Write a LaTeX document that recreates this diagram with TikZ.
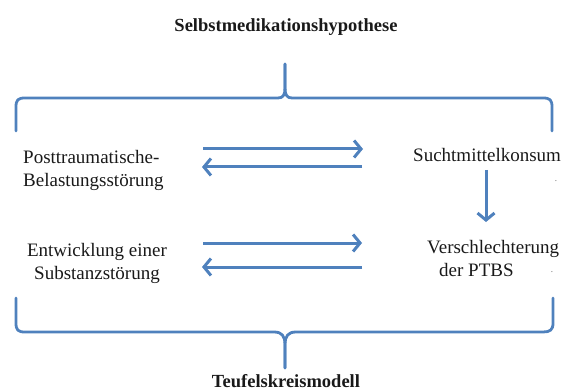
\documentclass[tikz,border=0pt]{standalone}
\usepackage{fontspec}
\setmainfont{Liberation Serif}
\usetikzlibrary{arrows.meta}
\definecolor{obl}{HTML}{4F81BD}
\begin{document}
\begin{tikzpicture}[x=1pt,y=-1pt,
  lbl/.style={inner sep=0pt, font=\fontsize{19pt}{23pt}\selectfont, text=black!90},
  ttl/.style={inner sep=0pt, font=\fontsize{18.5pt}{22pt}\selectfont\bfseries, text=black!90},
  arr/.style={draw=obl, line width=3pt, -{Straight Barb[length=7pt,width=17pt,line width=3pt]}},
  brace/.style={draw=obl, line width=2.8pt, line cap=round, line join=round},
  tinydot/.style={inner sep=0pt, font=\fontsize{9pt}{10pt}\selectfont, text=black!60}]
\useasboundingbox (0,0) rectangle (562,390);
% titles
\node[ttl] (top) at (286,27) {Selbstmedikationshypothese};
\node[ttl, anchor=base] (bot) at (286,387) {Teufelskreismodell};
% labels
\node[lbl, anchor=north west, align=left] (ptsd) at (23,150) {Posttraumatische-\\Belastungsstörung};
\node[lbl, anchor=north, align=center] (sub) at (97,243) {Entwicklung einer\\Substanzstörung};
\node[lbl, anchor=north west] (sucht) at (413,148) {Suchtmittelkonsum};
\node[lbl, anchor=north west, align=left] (versch) at (427,240) {Verschlechterung\\\hspace*{12pt}der PTBS};
\node[tinydot] (dot1) at (556,181) {.};
\node[tinydot] (dot2) at (552,272) {.};
% arrow end points
\coordinate (a1s) at (203,149); \coordinate (a1e) at (363,149);
\coordinate (a2s) at (362,167); \coordinate (a2e) at (202,167);
\coordinate (a3s) at (203,243); \coordinate (a3e) at (362,243);
\coordinate (a4s) at (362,267); \coordinate (a4e) at (202,267);
\coordinate (dns) at (486,170); \coordinate (dne) at (486,222);
\draw[arr] (a1s) -- (a1e);
\draw[arr] (a2s) -- (a2e);
\draw[arr] (a3s) -- (a3e);
\draw[arr] (a4s) -- (a4e);
\draw[arr] (dns) -- (dne);
% top brace
\coordinate (tb) at (285,64);
\draw[brace] (16,131) -- (16,107) .. controls (16,100) and (18,98) .. (25,98) -- (278,98)
  .. controls (283,98) and (285,95) .. (285,88) -- (tb);
\draw[brace] (tb) -- (285,88) .. controls (285,95) and (287,98) .. (292,98) -- (543,98)
  .. controls (550,98) and (552,100) .. (552,107) -- (552,131);
% bottom brace
\coordinate (bb) at (285,368);
\draw[brace] (16,298) -- (16,323) .. controls (16,330) and (18,332) .. (25,332) -- (274,332)
  .. controls (282,332) and (285,336) .. (285,345) -- (bb);
\draw[brace] (bb) -- (285,345) .. controls (285,336) and (288,332) .. (296,332) -- (543,332)
  .. controls (550,332) and (553,330) .. (553,323) -- (553,298);
\end{tikzpicture}
\end{document}
